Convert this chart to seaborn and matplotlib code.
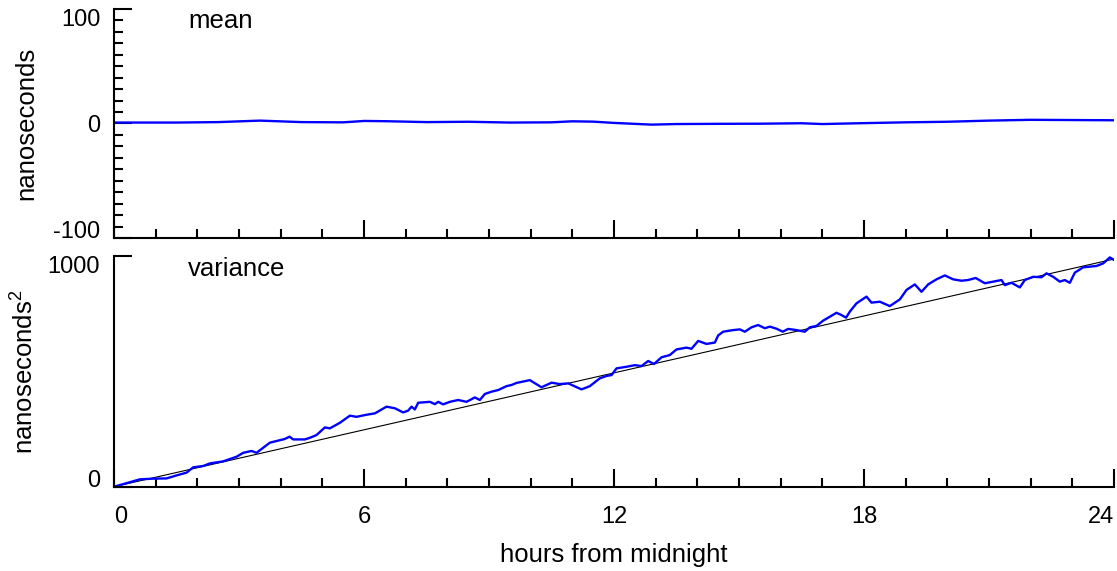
import pandas as pd
import matplotlib.pyplot as plt
import seaborn as sns
from matplotlib.ticker import MultipleLocator

# mean of clock offsets (nanoseconds)
mean_hours = [0, 0.5, 1.5, 2.5, 3.5, 4.5, 5.5, 6.0, 6.5, 7.5, 8.5, 9.5, 10.5, 11.0, 11.5,
              12.0, 12.9, 13.5, 14.5, 15.5, 16.5, 17.0, 18.0, 19.0, 20.0, 21.0, 22.0, 23.0, 24.0]
mean_ns = [0.8, 0.8, 0.8, 1.2, 2.5, 1.2, 1.0, 2.2, 2.0, 1.2, 1.5, 0.8, 1.0, 1.9, 1.6,
           0.5, -1.0, -0.5, -0.3, -0.2, 0.2, -0.5, 0.3, 1.0, 1.5, 2.5, 3.2, 3.0, 2.8]

# variance (nanoseconds^2)
var_hours = [0, 0.62, 0.94, 1.26, 1.5, 1.74, 1.9, 2.14, 2.3, 2.62, 2.94, 3.1, 3.3, 3.42, 3.74,
             4.1, 4.21, 4.3, 4.58, 4.7, 4.86, 5.06, 5.18, 5.42, 5.66, 5.82, 6.06, 6.26, 6.54,
             6.74, 6.94, 7.06, 7.14, 7.22, 7.3, 7.58, 7.7, 7.78, 7.9, 8.06, 8.26, 8.46, 8.66,
             8.78, 8.9, 9.06, 9.22, 9.42, 9.54, 9.66, 9.98, 10.26, 10.5, 10.7, 10.9, 11.22,
             11.42, 11.66, 11.82, 11.94, 12.06, 12.3, 12.5, 12.66, 12.82, 12.96, 13.14, 13.34,
             13.5, 13.74, 13.86, 14.02, 14.22, 14.42, 14.5, 14.62, 14.86, 15.02, 15.14, 15.3,
             15.46, 15.62, 15.74, 15.9, 16.05, 16.18, 16.38, 16.58, 16.7, 16.86, 17.02, 17.18,
             17.34, 17.46, 17.57, 17.66, 17.82, 18.06, 18.18, 18.38, 18.62, 18.86, 19.02, 19.22,
             19.38, 19.54, 19.74, 19.94, 20.14, 20.34, 20.5, 20.68, 20.9, 21.1, 21.3, 21.38,
             21.54, 21.74, 21.86, 22.06, 22.26, 22.38, 22.54, 22.7, 22.82, 22.94, 23.06, 23.26,
             23.42, 23.58, 23.74, 23.9, 24.0]
var_ns2 = [0, 32, 35, 36, 49, 61, 84, 90, 101, 110, 130, 147, 155, 147, 191,
           207, 217, 205, 205, 212, 224, 257, 253, 277, 308, 303, 312, 318, 347,
           340, 322, 330, 347, 335, 364, 368, 358, 368, 357, 368, 376, 368, 387,
           376, 402, 412, 419, 436, 441, 450, 462, 431, 451, 445, 448, 422,
           436, 470, 480, 484, 513, 520, 527, 523, 545, 532, 561, 571,
           595, 603, 598, 632, 619, 625, 656, 672, 679, 682, 672, 691,
           701, 687, 694, 685, 672, 684, 679, 672, 691, 697, 720, 737,
           754, 744, 733, 759, 795, 824, 798, 802, 783, 812, 853, 877,
           845, 877, 899, 916, 899, 893, 896, 905, 882, 889, 896, 874,
           884, 864, 896, 910, 908, 925, 910, 889, 896, 884, 928, 951,
           954, 957, 968, 994, 983]

# linear trend of the variance
trend_hours = [0, 24]
trend_ns2 = [0, 987]

mean_df = pd.DataFrame({'hours': mean_hours, 'ns': mean_ns})
var_df = pd.DataFrame({'hours': var_hours, 'ns2': var_ns2})
trend_df = pd.DataFrame({'hours': trend_hours, 'ns2': trend_ns2})

sns.set_style('ticks')
plt.rcParams['font.family'] = ['Liberation Sans', 'DejaVu Sans']
plt.rcParams['text.color'] = 'black'
plt.rcParams['axes.labelcolor'] = 'black'
plt.rcParams['axes.unicode_minus'] = False
plt.rcParams['mathtext.fontset'] = 'custom'
plt.rcParams['mathtext.rm'] = 'Liberation Sans'
plt.rcParams['mathtext.default'] = 'rm'

fig = plt.figure(figsize=(11.17, 5.71), dpi=100)
ax1 = fig.add_axes([0.1021, 0.5832, 0.8952, 0.4011])
ax2 = fig.add_axes([0.1021, 0.1476, 0.8952, 0.4040])

sns.lineplot(data=mean_df, x='hours', y='ns', ax=ax1, color='#0000ff', linewidth=1.7)
sns.lineplot(data=trend_df, x='hours', y='ns2', ax=ax2, color='black', linewidth=0.8)
sns.lineplot(data=var_df, x='hours', y='ns2', ax=ax2, color='#0000ff', linewidth=1.7)

for ax in (ax1, ax2):
    sns.despine(ax=ax)
    ax.spines['left'].set_linewidth(1.5)
    ax.spines['bottom'].set_linewidth(1.5)
    ax.spines['left'].set_color('black')
    ax.spines['bottom'].set_color('black')
    ax.set_xlim(0, 24)
    ax.set_xticks([0, 6, 12, 18, 24])
    ax.xaxis.set_minor_locator(MultipleLocator(1))
    ax.tick_params(which='major', direction='in', length=13, width=1.5, color='black',
                   labelsize=17, labelcolor='black')
    ax.tick_params(which='minor', direction='in', length=6.5, width=1.5, color='black')
    ax.tick_params(axis='y', pad=10)
    ax.tick_params(axis='x', pad=14)
    ax.set_xlabel('')
    ax.grid(False)

ax1.set_ylim(-100, 100)
ax1.set_yticks([-100, 0, 100])
ax1.yaxis.set_minor_locator(MultipleLocator(10))
ax1.tick_params(axis='x', labelbottom=False)
ax1.set_ylabel('nanoseconds', fontsize=18.5)
ax1.yaxis.set_label_coords(-0.0755, 0.5)
ax1.text(0.074, 0.917, 'mean', transform=ax1.transAxes, fontsize=18.5, va='baseline')

ax2.set_ylim(0, 1000)
ax2.set_yticks([0, 1000])
ax2.set_ylabel('nanoseconds$^2$', fontsize=18.5)
ax2.yaxis.set_label_coords(-0.0755, 0.5)
ax2.set_xlabel('hours from midnight', fontsize=18.5)
ax2.xaxis.set_label_coords(0.5, -0.245)
ax2.text(0.074, 0.913, 'variance', transform=ax2.transAxes, fontsize=18.5, va='baseline')

# keep end labels inside the axis extent, like the original
for ax in (ax1, ax2):
    ylabels = ax.get_yticklabels()
    ylabels[0].set_va('baseline')
    ylabels[-1].set_va('top')
xlabels = ax2.get_xticklabels()
xlabels[0].set_ha('left')
xlabels[-1].set_ha('right')

fig.savefig('out.png', dpi=100)
